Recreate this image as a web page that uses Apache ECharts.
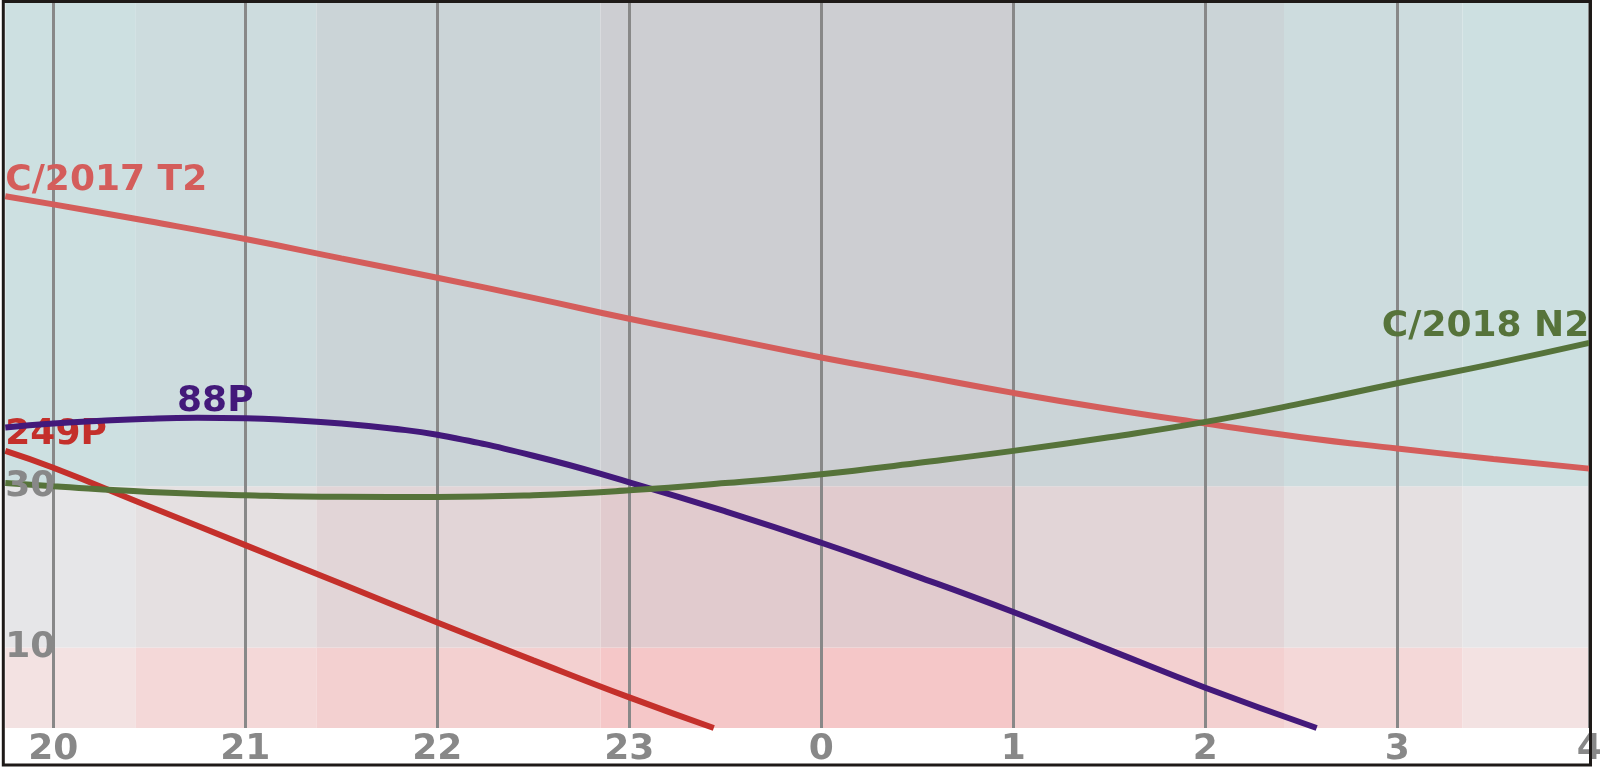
<!DOCTYPE html>
<html>
<head>
<meta charset="utf-8">
<style>
  html, body { margin: 0; padding: 0; background: #fff; }
  #main { width: 1600px; height: 767px; }
</style>
</head>
<body>
<div id="main"></div>
<script src="https://cdn.jsdelivr.net/npm/echarts@6/dist/echarts.min.js"></script>
<script>
// time in hours from the evening (24 = 0h, 28 = 4h), altitude in degrees
const hours = [19.75, 20, 20.5, 21, 21.5, 22, 22.5, 23, 23.5, 24, 24.5, 25, 25.5, 26, 26.5, 27, 27.5, 28]
const altT2 = [66.0, 65.0, 62.9, 60.7, 58.3, 55.9, 53.4, 50.8, 48.4, 46.0, 43.8, 41.6, 39.6, 37.8, 36.1, 34.7, 33.4, 32.2]
const altN2 = [30.4, 30.0, 29.3, 28.9, 28.7, 28.68, 28.9, 29.5, 30.4, 31.5, 32.9, 34.4, 36.1, 38.0, 40.3, 42.8, 45.2, 47.8]
const hours88P = [19.75, 20, 20.25, 20.5, 20.75, 21, 21.25, 21.5, 21.75, 22, 22.5, 23, 23.5, 24, 24.5, 25, 25.5, 26, 26.58]
const alt88P = [37.3, 37.8, 38.15, 38.4, 38.5, 38.45, 38.2, 37.8, 37.2, 36.4, 33.8, 30.5, 26.9, 23.0, 18.8, 14.4, 9.7, 5.0, 0]
const hours249P = [19.75, 20, 20.5, 21, 21.5, 22, 22.5, 23, 23.44]
const alt249P = [34.4, 32.3, 27.5, 22.7, 17.9, 13.1, 8.4, 3.8, 0]

// vertical grid lines (hours) and altitude labels
const gridHours = [20, 21, 22, 23, 24, 25, 26, 27, 28]
const altLabels = [10, 30]
// altitude zones and twilight bands
const altZones = [0, 10, 30, 90]
const twilightEdges = [19.75, 20.43, 21.37, 22.85, 25.0, 26.41, 27.34, 28]
const twilightLevel = [0, 1, 2, 3, 2, 1, 0]

// background colours: [level][zone] (zone 0 = 0-10, 1 = 10-30, 2 = 30-90)
const bandColors = [
  ['#f3e2e2', '#e6e6e8', '#cde0e1'],
  ['#f4d8d8', '#e5e0e1', '#cddcde'],
  ['#f3d0d0', '#e2d5d7', '#cbd4d7'],
  ['#f5c7c8', '#e1cbce', '#cdced2']
]

const font = 'DejaVu Sans'
const grey = '#888888'

const zip = (xs, ys) => xs.map((x, i) => [x, ys[i]])

const areas = []
twilightLevel.forEach((lvl, i) => {
  for (let j = 0; j < 3; j++) {
    areas.push([
      { xAxis: twilightEdges[i], yAxis: altZones[j], itemStyle: { color: bandColors[lvl][j] } },
      { xAxis: twilightEdges[i + 1], yAxis: altZones[j + 1] }
    ])
  }
})

// one comet curve, labelled at its highest point
const comet = (name, data, color, align, offset) => ({
  name: name,
  type: 'line',
  data: data,
  smooth: 0.5,
  showSymbol: false,
  z: 5,
  lineStyle: { color: color, width: 6 },
  markPoint: {
    symbol: 'circle',
    symbolSize: 0,
    data: [{ type: 'max', valueDim: 'y' }],
    label: {
      show: true,
      formatter: name,
      position: 'top',
      distance: -2,
      align: align,
      offset: offset,
      color: color,
      fontFamily: font,
      fontWeight: 'bold',
      fontSize: 36
    }
  }
})

const myChart = echarts.init(document.getElementById('main'))

const option = {
  animation: false,
  backgroundColor: '#ffffff',
  grid: { left: 5.3, right: 10.7, top: 3, bottom: 39, outerBoundsMode: 'none' },
  xAxis: {
    type: 'value',
    min: 19.75,
    max: 28,
    interval: 0.25,
    axisLine: { show: false },
    axisTick: { show: false },
    splitLine: { show: false },
    axisLabel: {
      margin: 4,
      color: grey,
      fontFamily: font,
      fontWeight: 'bold',
      fontSize: 36,
      formatter: (v) => (Number.isInteger(v) ? String(v % 24) : '')
    }
  },
  yAxis: {
    type: 'value',
    min: 0,
    max: 90,
    interval: 10,
    axisLine: { show: false },
    axisTick: { show: false },
    splitLine: { show: false },
    axisLabel: {
      inside: true,
      margin: 0,
      padding: [9, 0, 0, 0],
      color: grey,
      fontFamily: font,
      fontWeight: 'bold',
      fontSize: 36,
      formatter: (v) => (altLabels.includes(v) ? String(v) : '')
    },
    z: 6
  },
  series: [
    {
      name: 'background',
      type: 'line',
      data: [],
      z: 1,
      silent: true,
      markArea: { silent: true, data: areas },
      markLine: {
        silent: true,
        symbol: 'none',
        label: { show: false },
        lineStyle: { color: grey, width: 3, type: 'solid' },
        data: gridHours.map((h) => ({ xAxis: h }))
      }
    },
    comet('C/2017 T2', zip(hours, altT2), '#d45d5b', 'left', [0, 0]),
    comet('88P', zip(hours88P, alt88P), '#43197a', 'center', [18, 0]),
    comet('249P', zip(hours249P, alt249P), '#c4302b', 'left', [0, 0]),
    comet('C/2018 N2', zip(hours, altN2), '#56733a', 'right', [0, 0])
  ],
  graphic: [
    {
      type: 'rect',
      z: 100,
      silent: true,
      shape: { x: 3.3, y: 1.5, width: 1587.2, height: 763.5 },
      style: { fill: null, stroke: '#1e1a18', lineWidth: 3 }
    }
  ]
}

option && myChart.setOption(option)
</script>
</body>
</html>
